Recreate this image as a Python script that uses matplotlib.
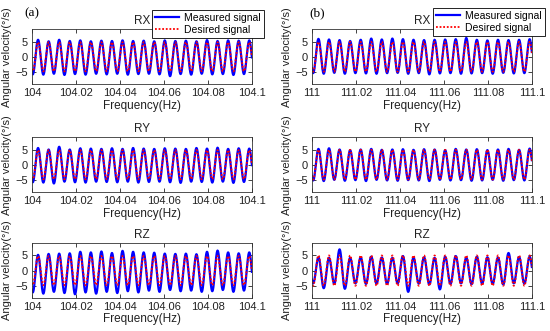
import matplotlib
matplotlib.use("Agg")
import matplotlib.pyplot as plt
import numpy as np

plt.rcParams['font.family'] = ['Liberation Sans', 'DejaVu Sans']
plt.rcParams['font.size'] = 8

# panel layout: (a) column starts at 104, (b) column at 111
x_starts = [104, 111]
x_ticks_a = [104, 104.02, 104.04, 104.06, 104.08, 104.1]
x_ticks_b = [111, 111.02, 111.04, 111.06, 111.08, 111.1]
tick_labels_a = ['104', '104.02', '104.04', '104.06', '104.08', '104.1']
tick_labels_b = ['111', '111.02', '111.04', '111.06', '111.08', '111.1']
axis_names = ['RX', 'RY', 'RZ']
period = 0.0048
first_peak = [0.0028, 0.0030]

# desired signal amplitude per panel (a: RX RY RZ, b: RX RY RZ)
desired_amp = [[4.8, 4.8, 4.8], [4.9, 4.9, 5.0]]

# measured signal peaks / troughs per cycle
meas_peaks = {
    ('a', 'RX'): [5.2, 5.6, 5.1, 5.6, 5.2, 5.4, 5.1, 5.3, 5.2, 5.4, 5.2, 5.3, 5.1, 5.4, 5.2, 5.3, 5.1, 5.5, 5.2, 5.4, 5.3, 5.4, 5.2],
    ('a', 'RY'): [5.3, 5.5, 5.0, 5.9, 5.0, 5.4, 5.3, 5.2, 5.4, 5.2, 5.5, 5.3, 5.2, 5.4, 5.3, 5.2, 5.5, 5.3, 5.6, 5.2, 5.4, 5.3, 5.2],
    ('a', 'RZ'): [5.5, 5.2, 5.5, 5.6, 5.7, 6.2, 6.0, 6.3, 5.8, 6.5, 6.2, 6.0, 5.9, 5.6, 5.5, 5.6, 5.4, 6.2, 6.6, 6.0, 5.7, 6.0, 5.8],
    ('b', 'RX'): [5.8, 5.9, 5.7, 5.5, 5.2, 5.6, 6.0, 5.7, 6.0, 5.8, 5.6, 5.5, 5.6, 5.7, 5.8, 6.2, 5.6, 5.4, 5.6, 5.5, 5.6, 5.8, 5.6],
    ('b', 'RY'): [5.0, 5.2, 5.4, 5.0, 4.8, 5.0, 5.2, 4.9, 5.0, 5.1, 4.9, 5.1, 5.0, 4.8, 5.2, 5.0, 5.1, 4.8, 5.0, 5.2, 4.9, 5.3, 5.0],
    ('b', 'RZ'): [4.2, 4.4, 4.2, 7.0, 4.2, 4.4, 4.6, 4.3, 4.2, 4.8, 4.3, 4.4, 4.2, 4.6, 4.8, 4.3, 4.6, 4.4, 4.3, 5.8, 4.5, 4.6, 4.4],
}
meas_troughs = {
    ('a', 'RX'): [-5.8, -5.9, -5.6, -6.0, -5.7, -5.9, -5.6, -5.8, -5.6, -5.9, -5.7, -5.6, -5.8, -6.4, -5.7, -5.9, -5.6, -5.8, -5.7, -6.0, -5.7, -5.8, -5.6],
    ('a', 'RY'): [-5.8, -5.9, -6.2, -5.6, -5.8, -5.9, -5.6, -5.7, -5.8, -5.6, -5.9, -5.7, -5.6, -5.8, -6.0, -5.6, -5.7, -5.9, -5.6, -6.0, -5.7, -5.6, -5.8],
    ('a', 'RZ'): [-7.2, -7.6, -7.0, -7.4, -7.8, -7.2, -7.6, -7.0, -7.4, -6.8, -7.2, -6.6, -7.0, -6.4, -6.8, -6.6, -7.0, -6.8, -6.4, -7.0, -6.6, -6.8, -6.5],
    ('b', 'RX'): [-5.4, -5.6, -5.3, -5.6, -5.4, -5.5, -5.6, -5.4, -5.3, -5.6, -5.4, -5.8, -5.5, -5.4, -5.6, -5.5, -5.4, -5.6, -5.3, -5.5, -5.4, -5.6, -5.5],
    ('b', 'RY'): [-5.2, -5.4, -5.0, -5.3, -5.1, -5.4, -5.0, -5.2, -5.3, -5.1, -5.2, -5.4, -5.0, -5.2, -5.1, -5.3, -5.2, -5.0, -5.3, -5.1, -5.2, -5.0, -5.2],
    ('b', 'RZ'): [-4.2, -5.8, -4.4, -6.0, -4.2, -4.4, -4.3, -4.4, -4.2, -7.0, -4.3, -4.6, -6.2, -4.4, -4.2, -4.5, -4.3, -4.4, -4.6, -4.2, -4.3, -4.6, -4.4],
}

axes_left = [0.058, 0.567]
axes_bottom = [0.746, 0.42, 0.10]
axes_w, axes_h = 0.40, 0.165


def wave(t, t_peak, peaks, troughs):
    """ Half-cosine pieces joining the per-cycle extrema """
    phase = (t - t_peak) / period
    k = np.floor(phase).astype(int) + 1
    frac = phase - np.floor(phase)
    p0 = np.take(peaks, np.clip(k, 0, len(peaks) - 1))
    p1 = np.take(peaks, np.clip(k + 1, 0, len(peaks) - 1))
    tr = np.take(troughs, np.clip(k, 0, len(troughs) - 1))
    c = np.cos(2 * np.pi * frac)
    first = (p0 + tr) / 2 + (p0 - tr) / 2 * c
    second = (p1 + tr) / 2 + (p1 - tr) / 2 * c
    return np.where(frac < 0.5, first, second)


fig = plt.figure(figsize=(5.5, 3.31), dpi=100)

for col, tag in enumerate(['a', 'b']):
    x0 = x_starts[col]
    ticks = x_ticks_a if col == 0 else x_ticks_b
    labels = tick_labels_a if col == 0 else tick_labels_b
    t = np.linspace(x0, x0 + 0.1, 3000)
    t_peak = x0 + first_peak[col]
    for row, name in enumerate(axis_names):
        ax = fig.add_axes([axes_left[col], axes_bottom[row], axes_w, axes_h])
        amp = desired_amp[col][row]
        n = len(meas_peaks[(tag, name)])
        meas = wave(t, t_peak, meas_peaks[(tag, name)], meas_troughs[(tag, name)])
        des = wave(t, t_peak, [amp] * n, [-amp] * n)
        ax.plot(t, meas, color='#0000ff', lw=1.6, label='Measured signal')
        ax.plot(t, des, color='#ff0000', lw=1.3, ls=(0, (1, 1)), label='Desired signal')
        ax.set_xlim(x0, x0 + 0.1)
        ax.set_ylim(-9, 9)
        ax.set_xticks(ticks)
        ax.set_xticklabels(labels)
        ax.set_yticks([-5, 0, 5])
        ax.tick_params(direction='in', top=True, right=True, length=3, width=0.6,
                       labelsize=8, pad=3, colors='#222222')
        for s in ax.spines.values():
            s.set_linewidth(0.6)
            s.set_color('#333333')
        ax.set_title(name, fontsize=8.5, pad=4, color='#222222')
        ax.set_xlabel('Frequency(Hz)', fontsize=8.5, labelpad=1, color='#222222')
        ax.set_ylabel('Angular velocity(°/s)', fontsize=8, labelpad=2, color='#222222')
        if row == 0:
            anchor = (1.055, 1.36) if col == 0 else (1.06, 1.40)
            leg = ax.legend(loc='upper right', bbox_to_anchor=anchor, fontsize=7.5,
                            fancybox=False, framealpha=1, edgecolor='black',
                            handlelength=2.3, borderpad=0.3, labelspacing=0.2,
                            handletextpad=0.5, borderaxespad=0)
            leg.get_frame().set_linewidth(0.6)
            fig.text(axes_left[col] - 0.014 + 0.01 * col, 0.95, '(%s)' % tag,
                     family=['Liberation Serif', 'DejaVu Serif'], fontsize=9.5)

fig.savefig('out.png', dpi=100)
